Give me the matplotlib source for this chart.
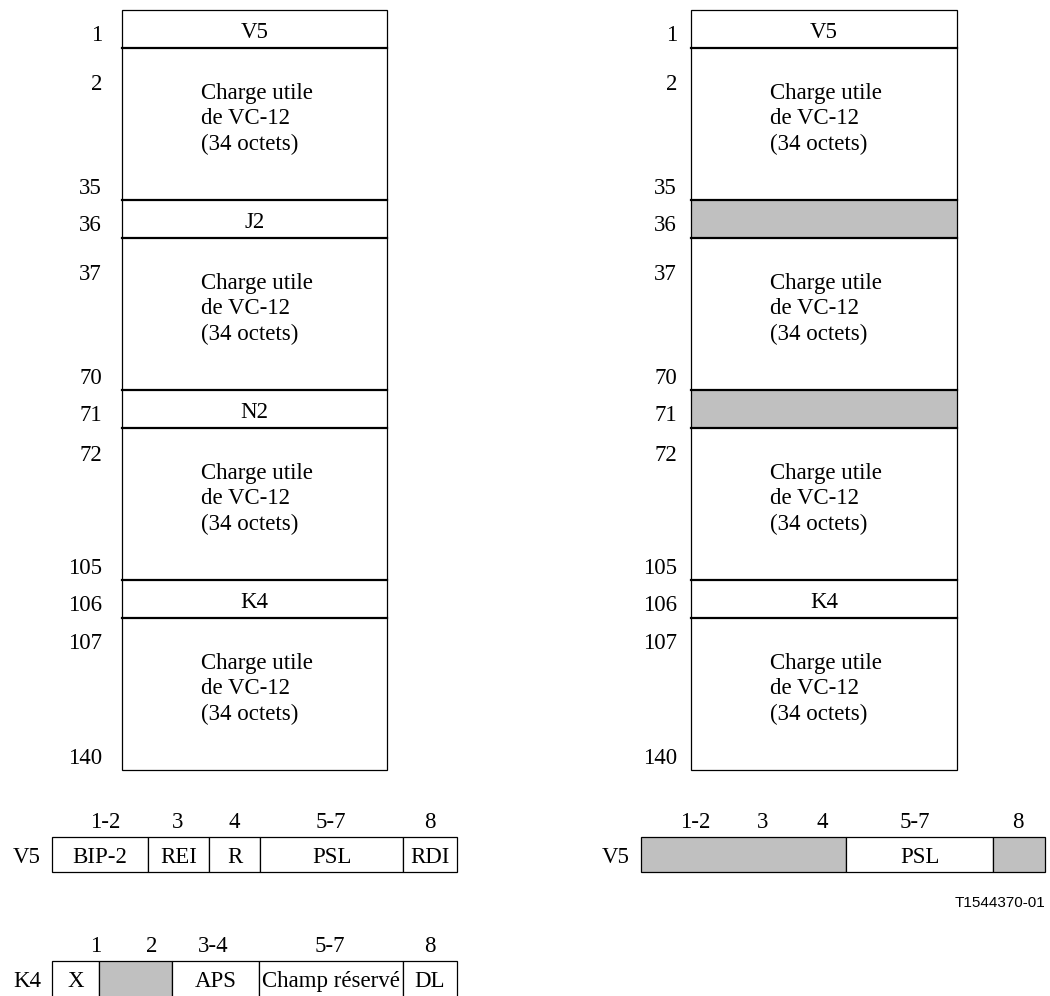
import matplotlib.pyplot as plt
from matplotlib.patches import Rectangle

plt.rcParams['font.family'] = ['Liberation Serif', 'DejaVu Serif']

# VC-12 multiframe rows (left: full, right: shaded J2/N2)
left_rows = ["V5", None, "J2", None, "N2", None, "K4", None]
right_rows = ["V5", None, "", None, "", None, "K4", None]
right_shaded = [False, False, True, False, True, False, False, False]
first_byte = [1, 2, 36, 37, 71, 72, 106, 107]
last_byte = [1, 35, 36, 70, 71, 105, 106, 140]
payload_text = "Charge utile\nde VC-12\n(34 octets)"

# V5 byte (left)
v5_fields = ["BIP-2", "REI", "R", "PSL", "RDI"]
v5_bits = ["1-2", "3", "4", "5-7", "8"]
v5_widths = [96, 61, 51, 143, 54]

# K4 byte (left)
k4_fields = ["X", "", "APS", "Champ réservé", "DL"]
k4_shaded = [False, True, False, False, False]
k4_bits = ["1", "2", "3-4", "5-7", "8"]
k4_widths = [47, 73, 87, 144, 54]

# V5 byte (right)
v5r_fields = ["", "PSL", ""]
v5r_shaded = [True, False, True]
v5r_bits = ["1-2", "3", "4", "5-7", "8"]
v5r_widths = [205, 147, 52]

GRAY = "#c0c0c0"
FS = 16.5

fig = plt.figure(figsize=(10.5, 9.96), dpi=100)
ax = fig.add_axes([0, 0, 1, 1])
ax.set_xlim(0, 1050)
ax.set_ylim(996, 0)
ax.axis('off')

# vertical offset of the first byte number under each payload row start
first_off = {1: 34, 3: 34, 5: 25, 7: 23}


def draw_frame(x0, x1, rows, shaded, num_x):
    y = 10
    for i, lab in enumerate(rows):
        h = 152 if lab is None else 38
        if shaded[i]:
            ax.add_patch(Rectangle((x0, y), x1 - x0, h, facecolor=GRAY, edgecolor='none'))
        if lab is None:
            ax.text((x0 + x1) / 2 + 2, y + h / 2 - 5, payload_text, ha='center', va='center',
                    multialignment='left', fontsize=FS, linespacing=1.28)
            ax.text(num_x, y + first_off[i] + 2, str(first_byte[i]), ha='right', va='center', fontsize=FS)
            ax.text(num_x, y + h - 12, str(last_byte[i]), ha='right', va='center', fontsize=FS)
        else:
            ax.text((x0 + x1) / 2, y + h / 2 + 3, lab, ha='center', va='center', fontsize=FS)
            ax.text(num_x, y + h / 2 + 6, str(first_byte[i]), ha='right', va='center', fontsize=FS)
        if i > 0:
            ax.plot([x0, x1], [y, y], color='black', lw=1.6)
        y += h
    ax.add_patch(Rectangle((x0, 10), x1 - x0, y - 10, facecolor='none', edgecolor='black', lw=0.9))


def draw_byte(x0, y0, name, fields, widths, shaded, bits, bit_x, h=35):
    x = x0
    for f, w, s in zip(fields, widths, shaded):
        ax.add_patch(Rectangle((x, y0), w, h, facecolor=GRAY if s else 'white',
                               edgecolor='black', lw=0.9))
        if f:
            ax.text(x + w / 2, y0 + 20, f, ha='center', va='center', fontsize=FS)
        x += w
    ax.text(x0 - 25, y0 + 20, name, ha='center', va='center', fontsize=FS)
    for b, bx in zip(bits, bit_x):
        ax.text(x0 + bx, y0 - 15, b, ha='center', va='center', fontsize=FS)


draw_frame(122, 387, left_rows, [False] * 8, 102)
draw_frame(691, 957, right_rows, right_shaded, 677)

draw_byte(52, 837, "V5", v5_fields, v5_widths, [False] * 5, v5_bits, [53, 126, 182, 279, 378])
draw_byte(52, 961, "K4", k4_fields, k4_widths, k4_shaded, k4_bits, [44, 100, 161, 278, 378], h=40)
draw_byte(641, 837, "V5", v5r_fields, v5r_widths, v5r_shaded, v5r_bits, [54, 122, 181, 274, 377])

ax.text(1045, 903, "T1544370-01", ha='right', va='center', fontsize=11,
        family=['Liberation Sans', 'DejaVu Sans'])

fig.savefig("out.png", dpi=100, facecolor='white')
